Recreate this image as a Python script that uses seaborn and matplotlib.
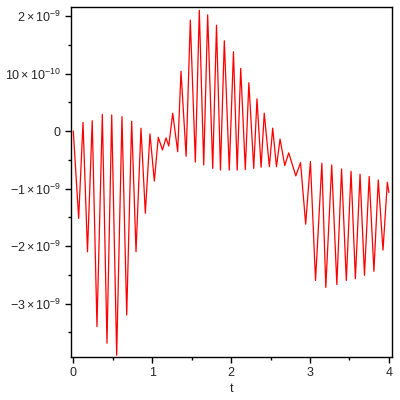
import matplotlib
matplotlib.use("Agg")
import matplotlib.pyplot as plt
import seaborn as sns
import numpy as np
import pandas as pd

# extrema of the curve (t, value in units of 1e-9)
t_vals = [0.00, 0.068, 0.123, 0.18, 0.24, 0.30, 0.368, 0.427, 0.487, 0.55,
          0.617, 0.677, 0.74, 0.795, 0.858, 0.913, 0.972, 1.027, 1.077, 1.13,
          1.175, 1.21, 1.26, 1.323, 1.365, 1.43, 1.483, 1.547, 1.597, 1.653,
          1.703, 1.767, 1.815, 1.865, 1.914, 1.977, 2.03, 2.077, 2.122, 2.18,
          2.225, 2.287, 2.328, 2.38, 2.42, 2.485, 2.527, 2.575, 2.62, 2.68,
          2.73, 2.82, 2.88, 2.945, 3.005, 3.07, 3.15, 3.20, 3.275, 3.34,
          3.40, 3.46, 3.52, 3.575, 3.634, 3.69, 3.75, 3.81, 3.865, 3.925,
          3.98, 4.00]
v_nano = [0.00, -1.52, 0.15, -2.10, 0.18, -3.40, 0.29, -3.69, 0.28, -3.90,
          0.25, -3.20, 0.17, -2.10, 0.05, -1.43, -0.05, -0.87, -0.11, -0.33,
          -0.12, -0.26, 0.31, -0.36, 1.04, -0.44, 1.93, -0.54, 2.10, -0.59,
          2.02, -0.65, 1.84, -0.68, 1.57, -0.68, 1.38, -0.68, 1.09, -0.67,
          0.84, -0.65, 0.56, -0.63, 0.31, -0.62, 0.05, -0.62, -0.14, -0.60,
          -0.38, -0.78, -0.55, -1.62, -0.53, -2.60, -0.56, -2.72, -0.59, -2.67,
          -0.66, -2.60, -0.70, -2.57, -0.75, -2.51, -0.79, -2.44, -0.85, -2.07,
          -0.89, -1.07]

ytick_vals = [2e-9, 1e-9, 0, -1e-9, -2e-9, -3e-9]
ytick_labels = [r"$2\times10^{-9}$", r"$10\times10^{-10}$", r"$0$",
                r"$-1\times10^{-9}$", r"$-2\times10^{-9}$", r"$-3\times10^{-9}$"]
xtick_vals = [0, 1, 2, 3, 4]
xtick_labels = ["0", "1", "2", "3", "4"]

sns.set_style("ticks")
plt.rcParams["font.family"] = ["Liberation Sans", "DejaVu Sans"]
plt.rcParams["mathtext.fontset"] = "custom"
plt.rcParams["mathtext.rm"] = "Liberation Sans"
plt.rcParams["mathtext.it"] = "Liberation Sans"
plt.rcParams["mathtext.default"] = "rm"

df = pd.DataFrame({"t": t_vals, "y": np.array(v_nano) * 1e-9})

fig = plt.figure(figsize=(4, 4), dpi=100)
ax = fig.add_axes([0.1775, 0.1075, 0.8025, 0.875])
sns.lineplot(data=df, x="t", y="y", color="#ff0000", linewidth=0.9,
             estimator=None, sort=False, ax=ax, antialiased=True)

ax.set_xlim(-0.029, 4.039)
ax.set_ylim(-3.93e-9, 2.157e-9)
ax.set_xticks(xtick_vals)
ax.set_xticklabels(xtick_labels, fontsize=9)
ax.set_yticks(ytick_vals)
ax.set_yticklabels(ytick_labels, fontsize=9)
ax.set_xticks([0.5, 1.5, 2.5, 3.5], minor=True)
ax.set_yticks([1.5e-9, 0.5e-9, -0.5e-9, -1.5e-9, -2.5e-9, -3.5e-9], minor=True)
ax.tick_params(which="major", direction="out", length=4, width=1, color="black", pad=3)
ax.tick_params(which="minor", direction="out", length=2.5, width=1, color="black")
for s in ax.spines.values():
    s.set_visible(True)
    s.set_color("black")
    s.set_linewidth(1)
ax.set_xlabel("t", fontsize=9, labelpad=3)
ax.set_ylabel("")

fig.savefig("out.png", dpi=100)
